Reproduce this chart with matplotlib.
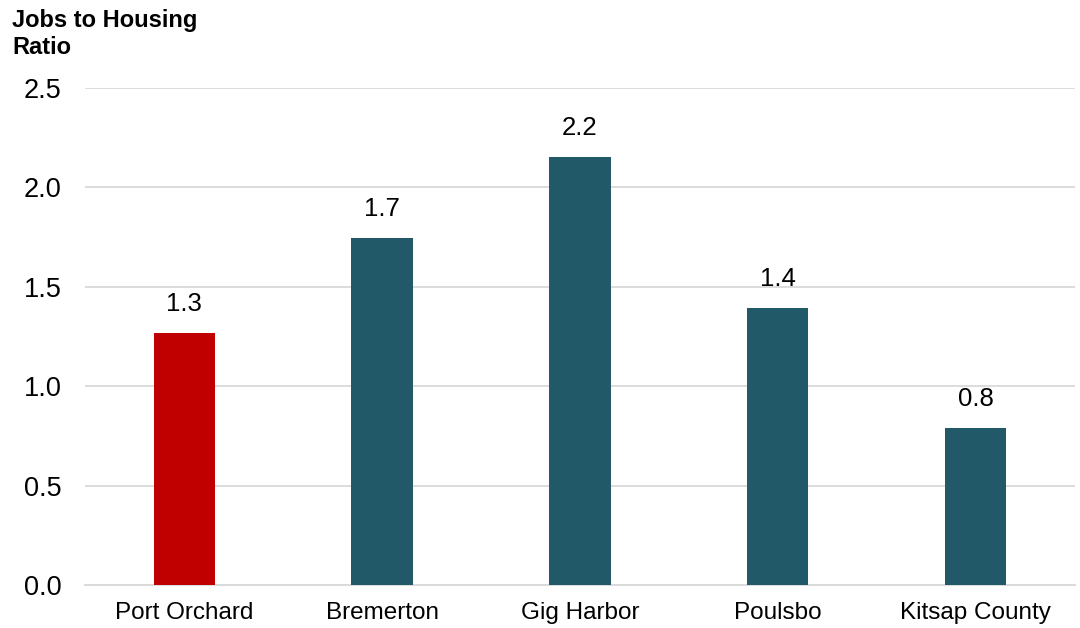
import matplotlib
matplotlib.use("Agg")
import matplotlib.pyplot as plt

plt.rcParams['font.family'] = ['Liberation Sans', 'DejaVu Sans']

# ── data ─────────────────────────────────────────────
places = ["Port Orchard", "Bremerton", "Gig Harbor", "Poulsbo", "Kitsap County"]
ratios = [1.27, 1.745, 2.155, 1.395, 0.79]
labels = ["1.3", "1.7", "2.2", "1.4", "0.8"]
yticks = [0.0, 0.5, 1.0, 1.5, 2.0, 2.5]

RED = "#C00000"
TEAL = "#215968"
GRID = "#D9D9D9"
colors = [RED] + [TEAL] * (len(places) - 1)

fig = plt.figure(figsize=(10.8, 6.28), dpi=100)
ax = fig.add_axes([0.079, 0.068, 0.916, 0.792])

x = range(len(places))
bars = ax.bar(x, ratios, width=0.31, color=colors, zorder=3)

for bar, lab in zip(bars, labels):
    ax.text(bar.get_x() + bar.get_width() / 2, bar.get_height() + 0.085, lab,
            ha='center', va='bottom', fontsize=18.5, color='black')

ax.set_xlim(-0.5, len(places) - 0.5)
ax.set_ylim(0, 2.5)
ax.set_yticks(yticks)
ax.set_yticklabels([f"{v:.1f}" for v in yticks], fontsize=19.5)
ax.set_xticks(list(x))
ax.set_xticklabels(places, fontsize=17.5)

ax.grid(axis='y', color=GRID, linewidth=1.3, zorder=0)
for s in ['top', 'right', 'left']:
    ax.spines[s].set_visible(False)
ax.spines['bottom'].set_color(GRID)
ax.spines['bottom'].set_linewidth(1.3)
ax.tick_params(axis='both', length=0)
ax.tick_params(axis='y', pad=17)
ax.tick_params(axis='x', pad=12)

fig.text(0.011, 0.985, "Jobs to Housing\nRatio", fontsize=17, fontweight='bold',
         ha='left', va='top', linespacing=1.2)

fig.savefig("out.png", dpi=100)
